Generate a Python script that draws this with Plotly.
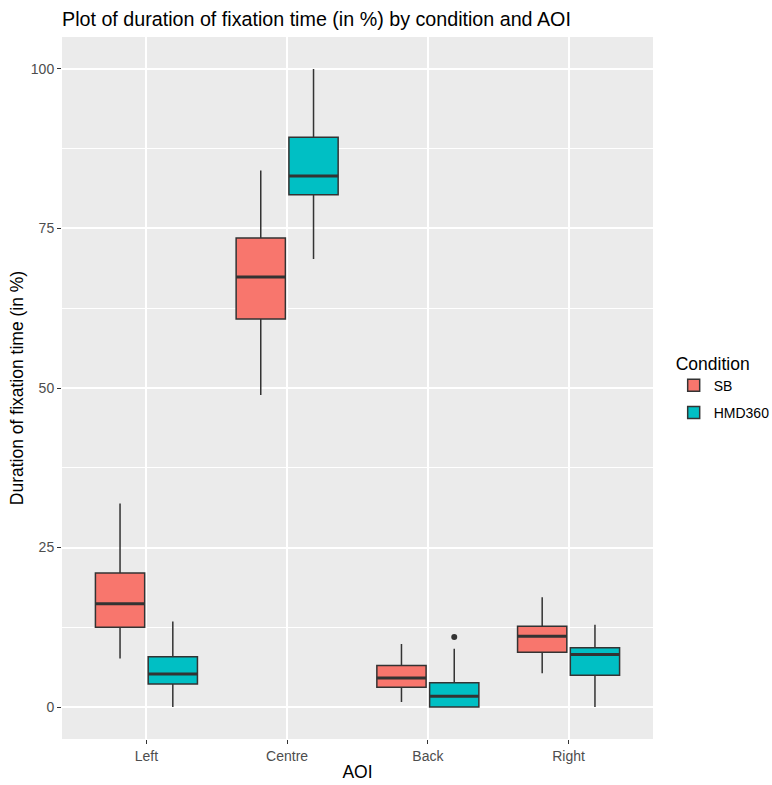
import plotly.graph_objects as go

# ---- data ----
categories = ["Left", "Centre", "Back", "Right"]
conditions = ["SB", "HMD360"]

sb_lower = [7.6, 48.9, 0.8, 5.3]
sb_q1 = [12.5, 60.8, 3.1, 8.6]
sb_median = [16.2, 67.4, 4.55, 11.1]
sb_q3 = [21.0, 73.5, 6.5, 12.65]
sb_upper = [31.9, 84.1, 9.9, 17.2]

hmd_lower = [0.0, 70.2, 0.0, 0.0]
hmd_q1 = [3.6, 80.3, 0.0, 5.0]
hmd_median = [5.2, 83.2, 1.7, 8.25]
hmd_q3 = [7.9, 89.3, 3.8, 9.3]
hmd_upper = [13.4, 100.0, 9.15, 12.9]

outlier_category = ["Back"]
outlier_condition = ["HMD360"]
outlier_value = [11.0]

y_ticks = [0, 25, 50, 75, 100]

# ---- styling / layout ----
colors = {"SB": "#F8766D", "HMD360": "#00BFC4"}
DODGE = 0.75
BOX_W = 0.35
offsets = {"SB": -DODGE / 4, "HMD360": DODGE / 4}
cat_pos = {c: i + 1 for i, c in enumerate(categories)}

stats = {
    "SB": (sb_lower, sb_q1, sb_median, sb_q3, sb_upper),
    "HMD360": (hmd_lower, hmd_q1, hmd_median, hmd_q3, hmd_upper),
}

fig = go.Figure()
for cond in conditions:
    lo, q1, med, q3, up = stats[cond]
    xs = [cat_pos[c] + offsets[cond] for c in categories]
    fig.add_trace(go.Box(
        x=xs, q1=q1, median=med, q3=q3, lowerfence=lo, upperfence=up,
        name=cond, width=BOX_W, fillcolor=colors[cond],
        line=dict(color="#333333", width=1.5), whiskerwidth=0,
        boxpoints=False, legendgroup=cond,
    ))
    # thicker median line (ggplot fatten)
    for x, m in zip(xs, med):
        fig.add_trace(go.Scatter(
            x=[x - BOX_W / 2, x + BOX_W / 2], y=[m, m], mode="lines",
            line=dict(color="#333333", width=3), showlegend=False,
            hoverinfo="skip",
        ))

fig.add_trace(go.Scatter(
    x=[cat_pos[c] + offsets[k] for c, k in zip(outlier_category, outlier_condition)],
    y=outlier_value, mode="markers",
    marker=dict(color="#333333", size=6), showlegend=False,
))

fig.update_layout(
    width=772, height=785,
    margin=dict(l=62, r=119, t=37, b=46, autoexpand=False),
    paper_bgcolor="white", plot_bgcolor="#EBEBEB",
    boxmode="overlay",
    font=dict(family="Liberation Sans, Arial, sans-serif", color="black"),
    title=dict(text="Plot of duration of fixation time (in %) by condition and AOI",
               x=62 / 772, xanchor="left", y=1 - 19 / 785, yanchor="middle",
               font=dict(size=19.7, color="black")),
    legend=dict(title=dict(text="Condition", font=dict(size=17.5)),
                x=1.035, xanchor="left", y=0.5, yanchor="middle",
                font=dict(size=14), bgcolor="rgba(0,0,0,0)",
                tracegroupgap=6),
    showlegend=True,
)
fig.update_xaxes(
    range=[0.4, 4.6], tickmode="array",
    tickvals=[cat_pos[c] for c in categories], ticktext=categories,
    showgrid=True, gridcolor="white", gridwidth=1.8, zeroline=False,
    ticks="outside", ticklen=4, tickcolor="#333333",
    tickfont=dict(size=14, color="#4D4D4D"),
    title=dict(text="AOI", font=dict(size=17.5), standoff=2),
)
fig.update_yaxes(
    range=[-5, 105], tickmode="array", tickvals=y_ticks,
    showgrid=True, gridcolor="white", gridwidth=1.8, zeroline=False,
    minor=dict(tickmode="array", tickvals=[12.5, 37.5, 62.5, 87.5],
               showgrid=True, gridcolor="white", gridwidth=0.9, ticks=""),
    ticks="outside", ticklen=4, tickcolor="#333333",
    tickfont=dict(size=14, color="#4D4D4D"),
    title=dict(text="Duration of fixation time (in %)", font=dict(size=17.5), standoff=2),
)

fig.write_html("out.html")
